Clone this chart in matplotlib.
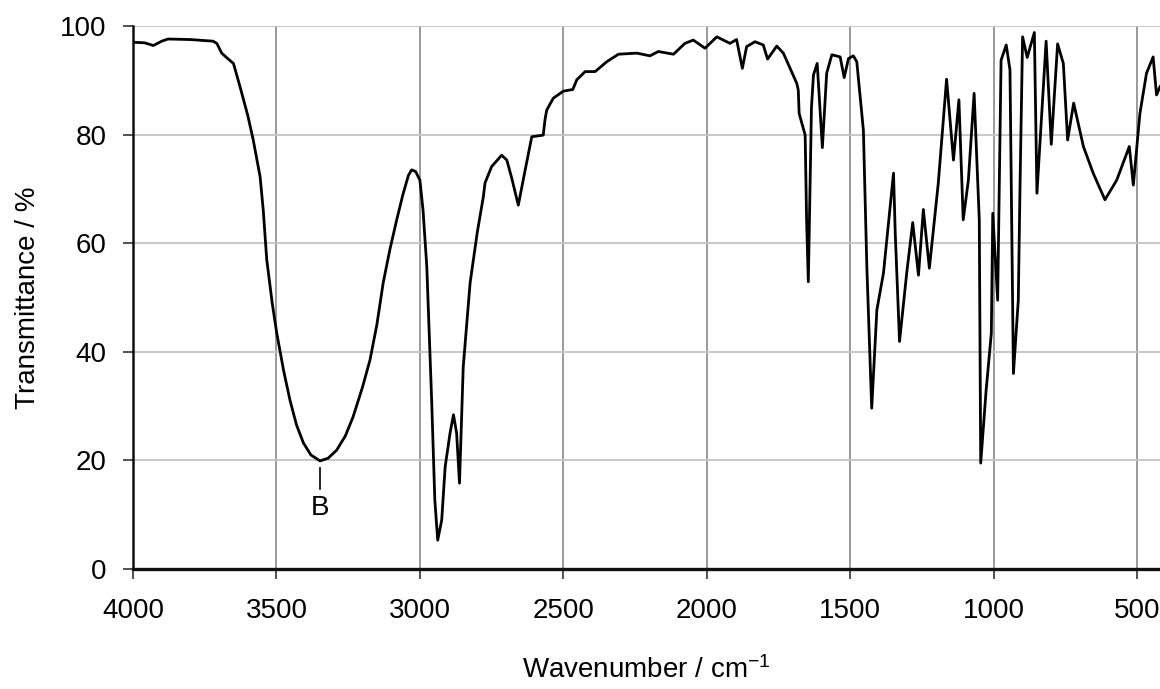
import matplotlib
matplotlib.use('Agg')
import matplotlib.pyplot as plt

plt.rcParams['font.family'] = ['Liberation Sans', 'DejaVu Sans']
plt.rcParams['mathtext.fontset'] = 'custom'
plt.rcParams['mathtext.rm'] = 'Liberation Sans'
plt.rcParams['mathtext.it'] = 'Liberation Sans'

# IR spectrum
wavenumber = [4000, 3960, 3929, 3900, 3878, 3800, 3721, 3708, 3691, 3670, 3650, 3627,
              3600, 3581, 3557, 3546, 3534, 3515, 3499, 3475, 3453, 3430, 3406, 3380,
              3348, 3320, 3290, 3260, 3233, 3200, 3174, 3150, 3128, 3104, 3080, 3059,
              3040, 3029, 3015, 3000, 2989, 2976, 2959, 2948, 2938, 2924, 2912, 2895,
              2883, 2872, 2862, 2849, 2825, 2800, 2779, 2773, 2750, 2715, 2697, 2680,
              2657, 2633, 2610, 2570, 2564, 2558, 2535, 2500, 2467, 2453, 2424, 2389,
              2349, 2308, 2244, 2198, 2169, 2116, 2076, 2047, 2006, 1965, 1919, 1896,
              1876, 1861, 1832, 1803, 1788, 1756, 1733, 1686, 1681, 1678, 1657, 1652,
              1646, 1635, 1628, 1615, 1597, 1582, 1564, 1535, 1521, 1506, 1489, 1477,
              1454, 1442, 1425, 1407, 1384, 1349, 1343, 1328, 1303, 1282, 1262, 1245,
              1224, 1193, 1164, 1140, 1121, 1106, 1088, 1068, 1050, 1045, 1026, 1008,
              1003, 986, 974, 956, 943, 931, 914, 908, 899, 883, 858, 849,
              817, 799, 777, 757, 742, 721, 687, 653, 612, 571, 527, 513,
              490, 467, 444, 432, 420]
transmittance = [97.0, 96.9, 96.4, 97.2, 97.6, 97.5, 97.2, 96.8, 95.0, 94.0, 93.1, 88.8,
                 83.5, 79.0, 72.2, 66.0, 57.0, 49.0, 43.4, 36.5, 31.1, 26.5, 23.2, 21.0,
                 19.9, 20.4, 21.9, 24.5, 28.0, 33.5, 38.5, 45.0, 52.7, 59.0, 64.5, 69.0,
                 72.5, 73.5, 73.2, 71.6, 66.0, 55.7, 31.0, 12.7, 5.3, 9.0, 18.8, 25.0,
                 28.4, 25.0, 15.8, 37.2, 52.7, 62.0, 68.5, 71.1, 74.1, 76.2, 75.3, 72.0,
                 67.0, 73.5, 79.6, 79.9, 82.7, 84.5, 86.7, 88.0, 88.3, 90.1, 91.6, 91.6,
                 93.4, 94.8, 95.0, 94.5, 95.3, 94.8, 96.8, 97.4, 95.9, 98.0, 96.8, 97.5,
                 92.2, 96.2, 97.1, 96.5, 93.9, 96.3, 95.0, 89.4, 88.2, 83.9, 79.9, 64.3,
                 52.9, 85.0, 91.0, 93.1, 77.6, 91.3, 94.7, 94.3, 90.5, 94.0, 94.5, 93.4,
                 80.8, 55.7, 29.6, 47.7, 54.5, 72.9, 61.9, 41.9, 54.5, 63.8, 54.1, 66.2,
                 55.4, 71.0, 90.2, 75.3, 86.4, 64.3, 71.6, 87.6, 64.3, 19.5, 33.0, 43.4,
                 65.5, 49.5, 93.7, 96.5, 91.9, 36.0, 49.5, 70.4, 98.0, 94.2, 98.8, 69.2,
                 97.2, 78.2, 96.7, 93.1, 79.0, 85.8, 77.8, 72.9, 68.0, 71.6, 77.8, 70.7,
                 83.9, 91.3, 94.3, 87.3, 88.8]

x_ticks = [4000, 3500, 3000, 2500, 2000, 1500, 1000, 500]
y_ticks = [0, 20, 40, 60, 80, 100]

peak_label = 'B'
peak_wn = 3348
peak_t = 19.9

fig = plt.figure(figsize=(11.6, 6.89), dpi=100)
ax = fig.add_axes([0.1147, 0.1742, 0.8853, 0.7881])

ax.plot(wavenumber, transmittance, color='black', linewidth=2.0, zorder=3,
        solid_joinstyle='round')

ax.set_xlim(4000, 420)
ax.set_ylim(0, 100)
ax.set_xticks(x_ticks)
ax.set_yticks(y_ticks)

# grid: vertical lines a bit darker than horizontal ones
for xv in x_ticks[1:]:
    ax.axvline(xv, color='#9a9a9a', linewidth=1.4, zorder=1)
for yv in y_ticks[1:]:
    ax.axhline(yv, color='#c4c4c4', linewidth=1.3, zorder=1)

for side in ['top', 'right']:
    ax.spines[side].set_visible(False)
ax.spines['left'].set_linewidth(1.8)
ax.spines['bottom'].set_linewidth(2.4)
ax.spines['left'].set_color('#111111')
ax.spines['bottom'].set_color('#111111')

ax.tick_params(axis='both', labelsize=20, length=7, width=1.2, color='#333333')
ax.tick_params(axis='x', pad=14)
ax.tick_params(axis='y', pad=12)

ax.set_xlabel('Wavenumber / cm$^{\u22121}$', fontsize=20, labelpad=23)
ax.set_ylabel('Transmittance / %', fontsize=20, labelpad=14)

# peak marker
ax.plot([peak_wn, peak_wn], [peak_t - 1.3, peak_t - 5.2], color='black', linewidth=1.2, zorder=3)
ax.text(peak_wn, peak_t - 6.3, peak_label, fontsize=20, ha='center', va='top', zorder=3)

fig.savefig('out.png', dpi=100)
